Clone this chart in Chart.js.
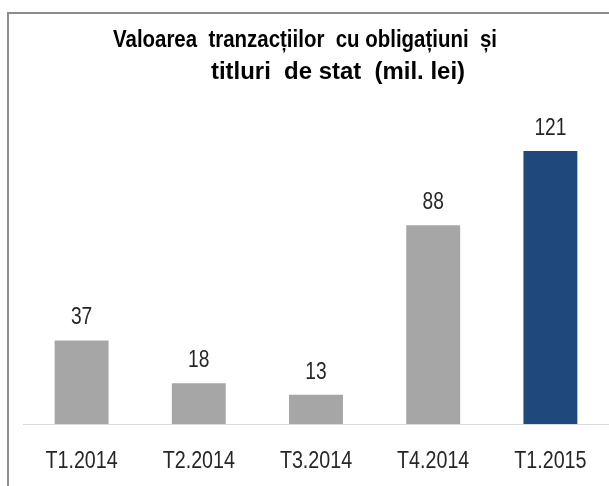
<!DOCTYPE html>
<html>
<head>
<meta charset="utf-8">
<script src="https://cdn.jsdelivr.net/npm/chart.js@4/dist/chart.umd.min.js"></script>
<style>
  body { margin: 0; background: #fff; }
  #wrap { position: relative; width: 609px; height: 486px; }
</style>
</head>
<body>
<div id="wrap"><canvas id="grafic" width="609" height="486"></canvas></div>
<script>
const trimestre = ["T1.2014", "T2.2014", "T3.2014", "T4.2014", "T1.2015"];
const valori = [37, 18, 13, 88, 121];
const culori = ["#a6a6a6", "#a6a6a6", "#a6a6a6", "#a6a6a6", "#1f497d"];
const titlu = ["Valoarea  tranzacțiilor  cu obligațiuni  și", "titluri  de stat  (mil. lei)"];

const fontBaza = "'Liberation Sans', Arial, sans-serif";

// text "ingustat" ca Arial Narrow (scalare pe orizontala)
function textIngust(ctx, text, x, y, scala) {
  ctx.save();
  ctx.translate(x, y);
  ctx.scale(scala, 1);
  ctx.fillText(text, 0, 0);
  ctx.restore();
}

// rama gri + titlul
const rama = {
  id: "rama",
  beforeDraw(chart) {
    const ctx = chart.ctx;
    ctx.save();
    ctx.strokeStyle = "#8c8c8c";
    ctx.lineWidth = 2;
    ctx.strokeRect(8, 13, 700, 600);

    ctx.fillStyle = "#000";
    ctx.font = "bold 23px " + fontBaza;
    ctx.textAlign = "left";
    ctx.textBaseline = "alphabetic";
    // [x inceput, x sfarsit, linia de baza]
    const pozitii = [[113, 497, 47], [211, 465, 79]];
    titlu.forEach((linie, i) => {
      const p = pozitii[i];
      const w = ctx.measureText(linie).width;
      textIngust(ctx, linie, p[0], p[2], (p[1] - p[0]) / w);
    });
    ctx.restore();
  }
};

// etichete cu valori deasupra barelor si etichetele axei x
const etichete = {
  id: "etichete",
  afterDatasetsDraw(chart) {
    const ctx = chart.ctx;
    const meta = chart.getDatasetMeta(0);
    const scalaX = chart.scales.x;
    ctx.save();
    ctx.font = "24px " + fontBaza;
    ctx.fillStyle = "#262626";
    ctx.textAlign = "center";
    ctx.textBaseline = "alphabetic";
    meta.data.forEach((bara, i) => {
      textIngust(ctx, String(valori[i]), bara.x, bara.y - 16, 0.8);
    });
    trimestre.forEach((t, i) => {
      textIngust(ctx, t, scalaX.getPixelForTick(i), 468, 0.82);
    });
    ctx.restore();
  }
};

new Chart(document.getElementById("grafic").getContext("2d"), {
  type: "bar",
  data: {
    labels: trimestre,
    datasets: [{
      data: valori,
      backgroundColor: culori,
      borderWidth: 0,
      categoryPercentage: 0.46,
      barPercentage: 1
    }]
  },
  options: {
    responsive: false,
    animation: false,
    layout: { padding: { left: 23, right: 0, top: 108, bottom: 54 } },
    plugins: {
      legend: { display: false },
      tooltip: { enabled: false },
      title: { display: false }
    },
    scales: {
      x: {
        grid: { display: false },
        border: { display: true, color: "#d9d9d9", width: 1 },
        ticks: { display: false }
      },
      y: {
        display: false,
        min: 0,
        max: 140
      }
    }
  },
  plugins: [rama, etichete]
});
</script>
</body>
</html>
